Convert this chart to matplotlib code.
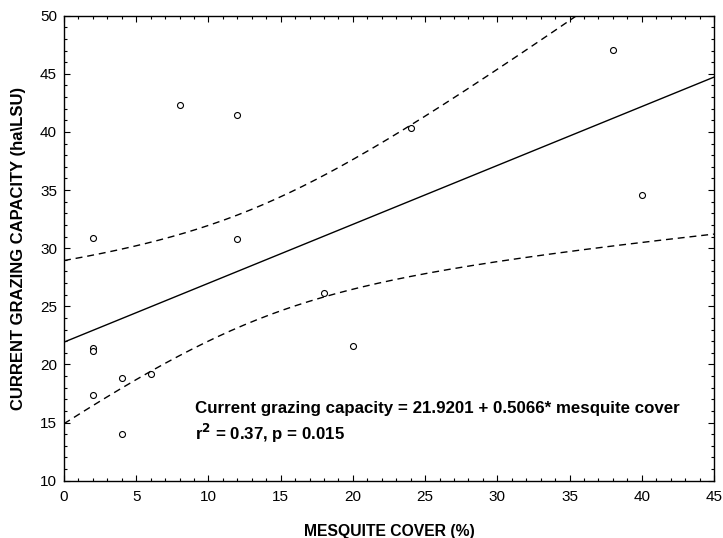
import matplotlib
matplotlib.use("Agg")
import matplotlib.pyplot as plt
import numpy as np
from matplotlib.ticker import MultipleLocator

plt.rcParams['font.family'] = ['Liberation Sans', 'DejaVu Sans']

# --- data ---
mesquite_cover = np.array([2, 2, 2, 2, 4, 4, 6, 8, 12, 12, 18, 20, 24, 38, 40])
grazing_capacity = np.array([30.9, 21.4, 21.2, 17.35, 18.8, 14.05, 19.15, 42.3,
                             41.45, 30.8, 26.15, 21.6, 40.35, 47.05, 34.6])

# reported regression
intercept = 21.9201
slope = 0.5066
t_crit = 2.160  # t(0.975, df=13)

# --- confidence band for the fitted line ---
n = len(mesquite_cover)
resid = grazing_capacity - (intercept + slope * mesquite_cover)
s = np.sqrt(np.sum(resid ** 2) / (n - 2))
xm = mesquite_cover.mean()
sxx = np.sum((mesquite_cover - xm) ** 2)
xs = np.linspace(0, 45, 200)
fit = intercept + slope * xs
half = t_crit * s * np.sqrt(1.0 / n + (xs - xm) ** 2 / sxx)

fig = plt.figure(figsize=(7.23, 5.38), dpi=100)
ax = fig.add_axes([0.0885, 0.1065, 0.899, 0.8643])

ax.plot(xs, fit, color='black', linewidth=1.0)
ax.plot(xs, fit + half, color='black', linewidth=1.0, dashes=(5, 3.5))
ax.plot(xs, fit - half, color='black', linewidth=1.0, dashes=(5, 3.5))
ax.plot(mesquite_cover, grazing_capacity, linestyle='none', marker='o',
        markersize=4.3, markerfacecolor='white', markeredgecolor='black',
        markeredgewidth=0.8)

ax.set_xlim(0, 45)
ax.set_ylim(10, 50)
ax.xaxis.set_major_locator(MultipleLocator(5))
ax.xaxis.set_minor_locator(MultipleLocator(1))
ax.yaxis.set_major_locator(MultipleLocator(5))
ax.yaxis.set_minor_locator(MultipleLocator(1))
ax.tick_params(which='both', direction='in', top=True, right=True,
               labelsize=11, width=0.8)
ax.tick_params(which='major', length=4)
ax.tick_params(which='minor', length=2.5)
ax.tick_params(axis='x', which='major', pad=7)
ax.tick_params(axis='y', which='major', pad=5)
for sp in ax.spines.values():
    sp.set_linewidth(1.0)

ax.set_xlabel("MESQUITE COVER (%)", fontsize=11.3, fontweight='bold', labelpad=14)
ax.set_ylabel("CURRENT GRAZING CAPACITY (ha\\LSU)", fontsize=12,
              fontweight='bold', labelpad=10)

ax.text(9.05, 16.2, "Current grazing capacity = 21.9201 + 0.5066* mesquite cover",
        fontsize=12.2, fontweight='bold', va='center', ha='left')
ax.text(9.05, 14.1, r"r$^\mathbf{2}$ = 0.37, p = 0.015",
        fontsize=12.2, fontweight='bold', va='center', ha='left')

fig.savefig("out.png", dpi=100)
